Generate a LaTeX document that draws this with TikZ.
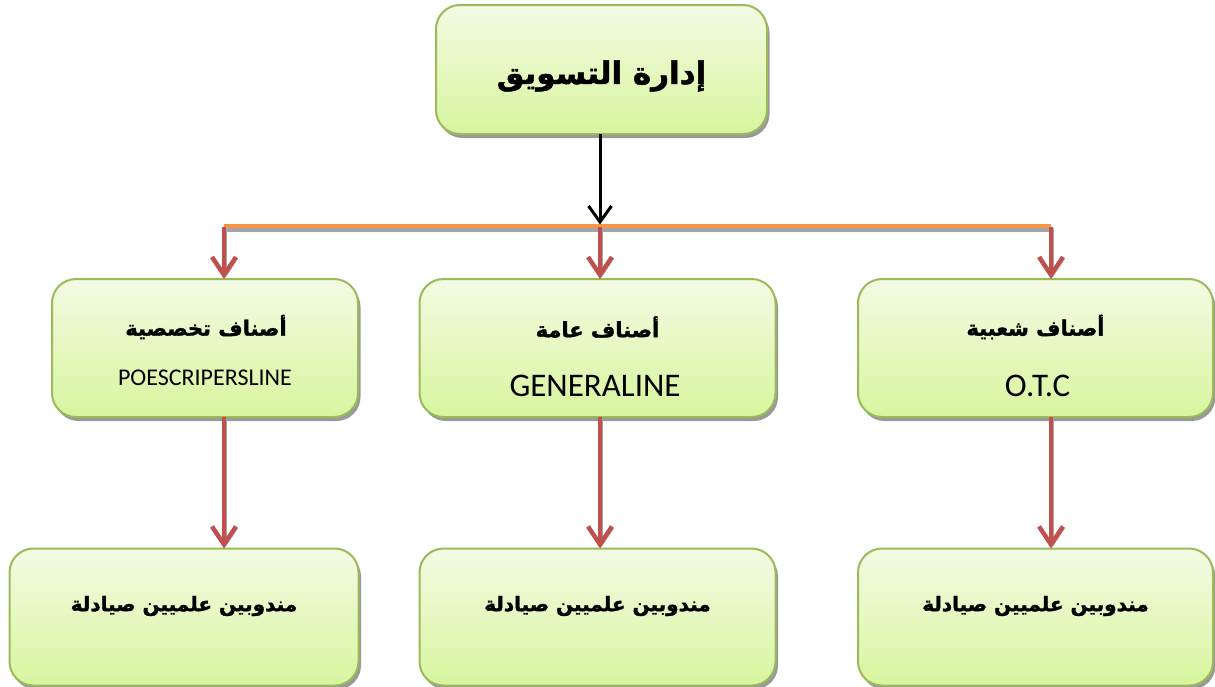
\documentclass[tikz,border=0pt]{standalone}
\usepackage{fontspec}
\usetikzlibrary{arrows.meta,shadows}
\TeXXeTstate=1
\newfontfamily\arabicfont[Script=Arabic, BoldFeatures={FakeBold=1.6}]{DejaVu Sans}
\newfontfamily\latinfont{Carlito}

\definecolor{boxtop}{RGB}{243,251,228}
\definecolor{boxbot}{RGB}{216,245,158}
\definecolor{boxline}{RGB}{155,187,89}
\definecolor{linkred}{RGB}{192,80,77}
\definecolor{busorange}{RGB}{247,150,70}

\tikzset{
  orgbox/.style={draw=boxline, line width=2pt, rounded corners=24pt,
    top color=boxtop, bottom color=boxbot, inner sep=0pt, outer sep=0pt,
    drop shadow={shadow xshift=2.5pt, shadow yshift=-4pt, fill=black, opacity=0.4}},
  artext/.style={inner sep=0pt},
  latext/.style={inner sep=0pt},
  redlink/.style={draw=linkred, line width=4.5pt,
    -{Straight Barb[length=18pt, width=24pt, line width=4.5pt]},
    preaction={draw=black!35, transform canvas={shift={(1.8pt,-1.8pt)}}}},
  blacklink/.style={draw=black, line width=3pt,
    -{Straight Barb[length=16pt, width=23pt, line width=3pt]}}
}

\begin{document}
\begin{tikzpicture}[x=1pt, y=-1pt]
\useasboundingbox (0,0) rectangle (1215,686);

% top box
\node[orgbox, minimum width=331pt, minimum height=129pt] (top) at (601.5,69.5) {};
\node[artext, font=\arabicfont\bfseries\fontsize{31}{36}\selectfont] (toptx) at (601.5,76) {\beginR إدارة التسويق\endR};

% middle row
\node[orgbox, minimum width=306pt, minimum height=138pt] (m1) at (205,348) {};
\node[orgbox, minimum width=356pt, minimum height=138pt] (m2) at (597.5,348) {};
\node[orgbox, minimum width=355pt, minimum height=138pt] (m3) at (1035.5,348) {};

\node[artext, font=\arabicfont\bfseries\fontsize{21}{25}\selectfont] (m1a) at (206,327) {\beginR أصناف تخصصية\endR};
\node[latext, font=\latinfont\fontsize{24}{28}\selectfont] (m1b) at (205,378) {POESCRIPERSLINE};
\node[artext, font=\arabicfont\bfseries\fontsize{21}{25}\selectfont] (m2a) at (597.5,327) {\beginR أصناف عامة\endR};
\node[latext, font=\latinfont\fontsize{33}{38}\selectfont] (m2b) at (595,386) {GENERALINE};
\node[artext, font=\arabicfont\bfseries\fontsize{21}{25}\selectfont] (m3a) at (1035.5,327) {\beginR أصناف شعبية\endR};
\node[latext, font=\latinfont\fontsize{33}{38}\selectfont] (m3b) at (1037.5,386) {O.T.C};

% bottom row
\node[orgbox, minimum width=349pt, minimum height=137pt] (b1) at (184,617) {};
\node[orgbox, minimum width=356pt, minimum height=137pt] (b2) at (597.5,617) {};
\node[orgbox, minimum width=355pt, minimum height=137pt] (b3) at (1035.5,617) {};

\node[artext, font=\arabicfont\bfseries\fontsize{20}{24}\selectfont] (b1a) at (184,606) {\beginR مندوبين علميين صيادلة\endR};
\node[artext, font=\arabicfont\bfseries\fontsize{20}{24}\selectfont] (b2a) at (597.5,606) {\beginR مندوبين علميين صيادلة\endR};
\node[artext, font=\arabicfont\bfseries\fontsize{20}{24}\selectfont] (b3a) at (1035.5,606) {\beginR مندوبين علميين صيادلة\endR};

% distribution bus
\coordinate (busL) at (224,225.5);
\coordinate (busM) at (600,225.5);
\coordinate (busR) at (1051,225.5);
\draw[line width=4pt, black!35] ([xshift=2pt,yshift=-4.5pt]busL) -- ([yshift=-4.5pt]busR);
\draw[line width=4pt, busorange] (busL) -- (busR);

% connectors
\draw[blacklink] (top.south -| busM) -- ([yshift=1pt]busM);
\draw[redlink] ([yshift=-1pt]busL) -- (m1.north -| busL);
\draw[redlink] ([yshift=-1pt]busM) -- (m2.north -| busM);
\draw[redlink] ([yshift=-1pt]busR) -- (m3.north -| busR);
\draw[redlink] (m1.south -| busL) -- (b1.north -| busL);
\draw[redlink] (m2.south -| busM) -- (b2.north -| busM);
\draw[redlink] (m3.south -| busR) -- (b3.north -| busR);
\end{tikzpicture}
\end{document}
